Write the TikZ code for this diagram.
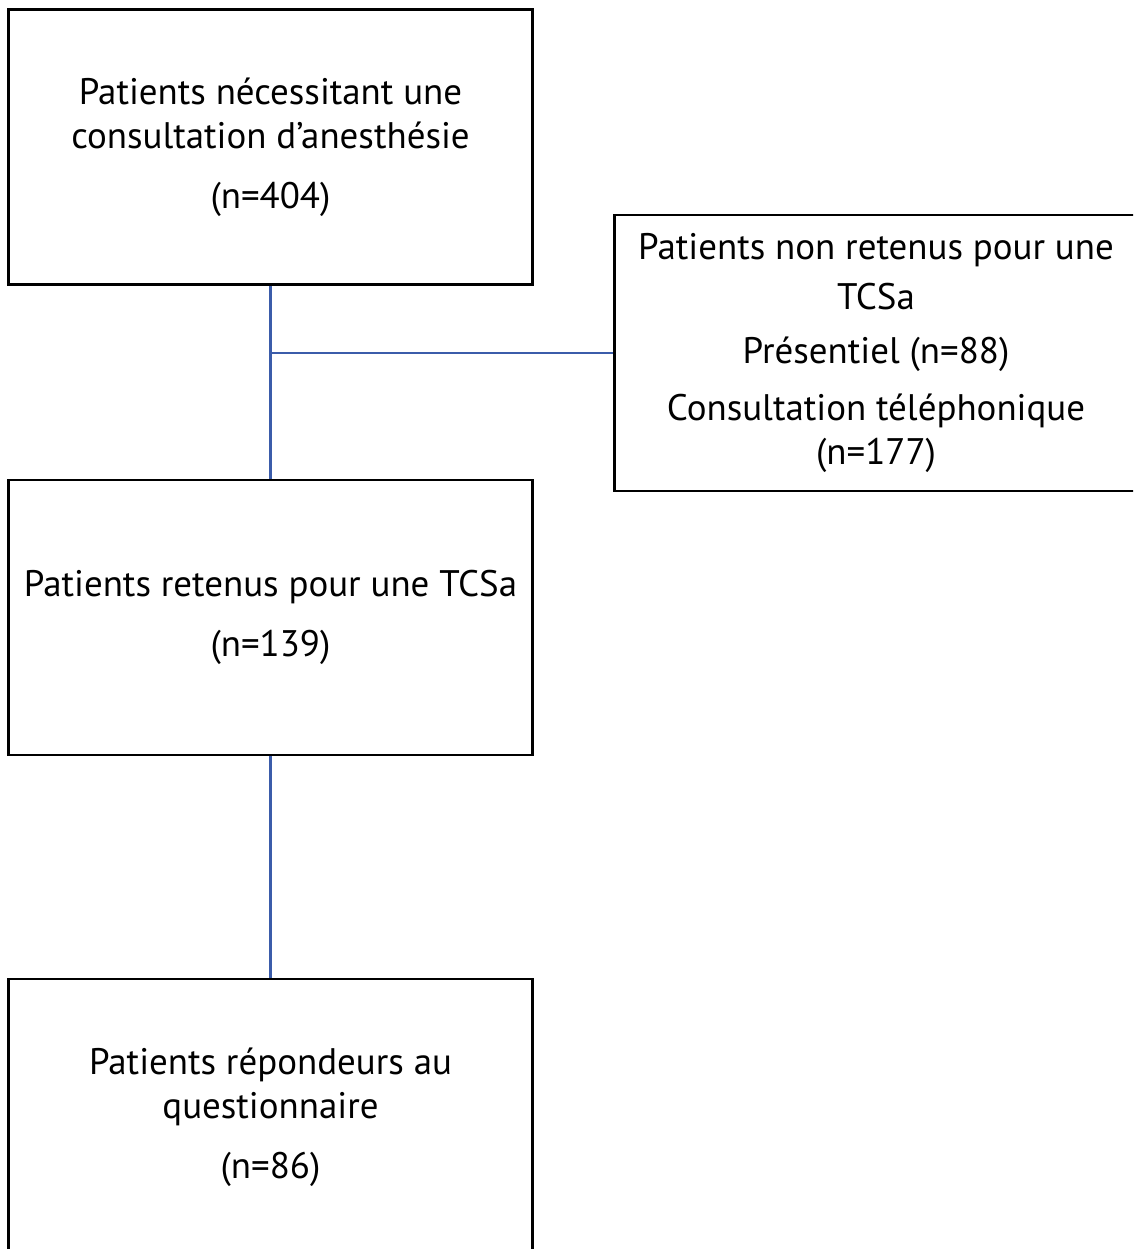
\documentclass[tikz,border=0pt]{standalone}
\usepackage{fontspec}
\setmainfont{PT Sans}
\usepackage{xcolor}
\usetikzlibrary{calc}

\definecolor{linkblue}{RGB}{59,92,170}

\tikzset{
    flowbox/.style={draw=black, line width=0.8pt, align=center, inner sep=0pt,
        minimum width=5.23cm, minimum height=2.75cm,
        font=\fontsize{10.5}{12.5}\selectfont},
    link/.style={draw=linkblue, line width=0.6pt}
}

\begin{document}
\begin{tikzpicture}[x=0.01cm, y=-0.01cm]
        \clip (0,0) rectangle (1133,1249);

        % Boxes
        \node[flowbox] (total) at (270.5,147)
            {Patients nécessitant une\\consultation d’anesthésie\\[4.5pt](n=404)};
        \node[flowbox, minimum width=5.22cm, minimum height=2.76cm] (excl) at (876,353)
            {Patients non retenus pour une\\[1.7pt]TCSa\\[2.8pt]Présentiel (n=88)\\[3.9pt]Consultation téléphonique\\(n=177)};
        \node[flowbox] (kept) at (270.5,617.5)
            {Patients retenus pour une TCSa\\[4.5pt](n=139)};
        \node[flowbox, minimum height=2.76cm] (resp) at (270.5,1117)
            {Patients répondeurs au\\questionnaire\\[4.5pt](n=86)};

        % Connectors
        \coordinate (split) at (total.south |- excl.west);
        \draw[link] (total.south) -- (kept.north);
        \draw[link] (split) -- (excl.west);
        \draw[link] (kept.south) -- (resp.north);
    \end{tikzpicture}
\end{document}
